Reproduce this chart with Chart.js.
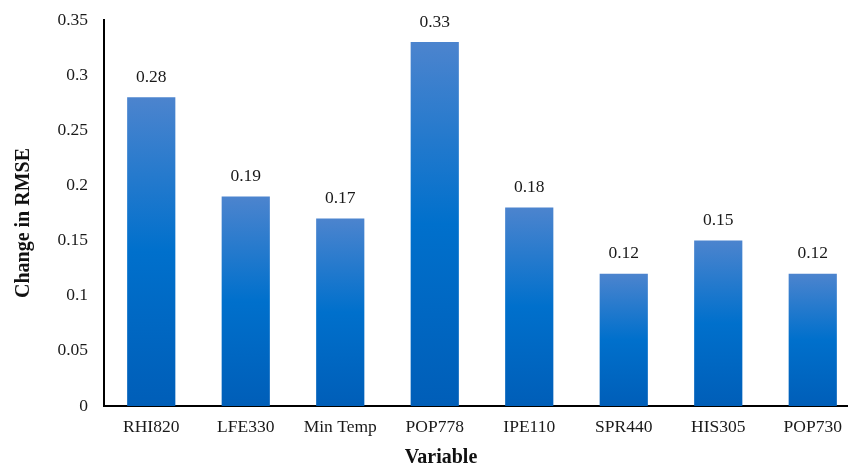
<!DOCTYPE html>
<html>
<head>
<meta charset="utf-8">
<script src="https://cdn.jsdelivr.net/npm/chart.js@4.4.1/dist/chart.umd.min.js"></script>
<style>
  html, body { margin: 0; padding: 0; background: #fff; overflow: hidden; }
  #wrap { width: 862px; height: 466px; }
</style>
</head>
<body>
<div id="wrap"><canvas id="c" width="862" height="466"></canvas></div>
<script>
const categories = ['RHI820', 'LFE330', 'Min Temp', 'POP778', 'IPE110', 'SPR440', 'HIS305', 'POP730'];
const rmseChange = [0.28, 0.19, 0.17, 0.33, 0.18, 0.12, 0.15, 0.12];
const yTicks = [0, 0.05, 0.1, 0.15, 0.2, 0.25, 0.3, 0.35];
const xTitle = 'Variable';
const yTitle = 'Change in RMSE';

const FONT = "'Liberation Serif', 'Times New Roman', serif";

// Vertical gradient for each bar, from its top down to the baseline
function barGradient(ctx) {
  const chart = ctx.chart;
  const yScale = chart.scales.y;
  if (!yScale || ctx.dataIndex === undefined) return '#0070cc';
  const v = ctx.dataset.data[ctx.dataIndex];
  const top = yScale.getPixelForValue(v);
  const bottom = yScale.getPixelForValue(0);
  if (!isFinite(top) || !isFinite(bottom) || top === bottom) return '#0070cc';
  const g = chart.ctx.createLinearGradient(0, top, 0, bottom);
  g.addColorStop(0, '#4c84ce');
  g.addColorStop(0.5, '#0070cc');
  g.addColorStop(1, '#005eb8');
  return g;
}

// Value labels above each bar, plus the two axis titles
const annotations = {
  id: 'annotations',
  afterDatasetsDraw(chart) {
    const ctx = chart.ctx;
    const meta = chart.getDatasetMeta(0);
    ctx.save();
    ctx.font = "17.5px " + FONT;
    ctx.fillStyle = '#1a1a1a';
    ctx.textAlign = 'center';
    ctx.textBaseline = 'middle';
    meta.data.forEach((bar, i) => {
      ctx.fillText(rmseChange[i].toFixed(2), bar.x, bar.y - 20);
    });

    ctx.font = "bold 20px " + FONT;
    ctx.fillStyle = '#111';
    ctx.textBaseline = 'alphabetic';
    ctx.fillText(xTitle, 441, 463);

    ctx.translate(29, 223);
    ctx.rotate(-Math.PI / 2);
    ctx.fillText(yTitle, 0, 0);
    ctx.restore();
  }
};

new Chart(document.getElementById('c'), {
  type: 'bar',
  data: {
    labels: categories,
    datasets: [{
      data: rmseChange,
      backgroundColor: barGradient,
      borderWidth: 0,
      categoryPercentage: 1,
      barPercentage: 0.51
    }]
  },
  options: {
    responsive: false,
    animation: false,
    devicePixelRatio: 1,
    layout: { padding: { top: 20, right: 2, left: 0, bottom: 0 } },
    plugins: { legend: { display: false }, tooltip: { enabled: false } },
    scales: {
      x: {
        grid: { display: false, drawTicks: false },
        border: { display: true, color: '#000', width: 2 },
        ticks: { color: '#1a1a1a', font: { family: FONT, size: 17.5 }, padding: 11, maxRotation: 0 },
        afterFit(scale) { scale.height = 60; }
      },
      y: {
        min: 0,
        max: 0.35,
        afterBuildTicks(scale) { scale.ticks = yTicks.map(v => ({ value: v })); },
        grid: { display: false, drawTicks: false },
        border: { display: true, color: '#000', width: 2 },
        ticks: {
          color: '#1a1a1a',
          font: { family: FONT, size: 17.5 },
          padding: 16,
          callback: v => String(v)
        },
        afterFit(scale) {
          scale.width = 104;
          scale.paddingTop = 0;
          scale.paddingBottom = 0;
        }
      }
    }
  },
  plugins: [annotations]
});
</script>
</body>
</html>
